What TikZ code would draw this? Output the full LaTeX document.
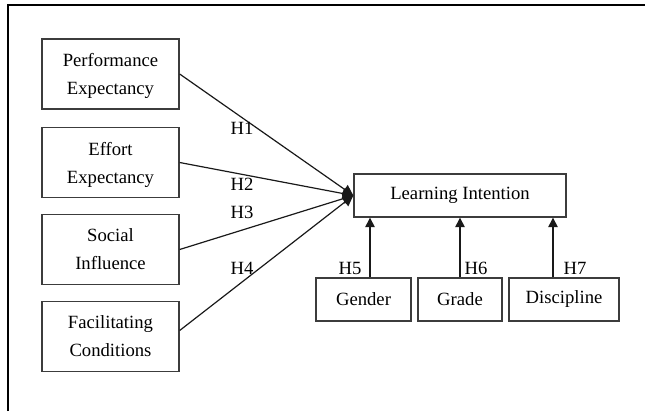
\documentclass[tikz,border=0pt]{standalone}
\usepackage{fontspec}
\setmainfont{Liberation Serif}
\usetikzlibrary{arrows.meta}
\tikzset{
  varbox/.style={draw={rgb,255:red,60;green,60;blue,60},line width=1pt,minimum width=137*0.75pt,minimum height=70*0.75pt,align=center,inner sep=0pt,text depth=0pt,font=\fontsize{14}{21}\selectfont},
  modbox/.style={draw={rgb,255:red,60;green,60;blue,60},line width=1pt,minimum height=43*0.75pt,inner sep=0pt,font=\fontsize{14}{21}\selectfont},
  hlabel/.style={inner sep=0.75pt,font=\fontsize{14}{16}\selectfont},
  path/.style={draw={rgb,255:red,25;green,25;blue,25},line width=0.9pt,-{Triangle[length=7pt,width=7pt]}},
  inpath/.style={path,-{Triangle[length=8pt,width=8pt]}}
}
\begin{document}
\begin{tikzpicture}[x=0.75pt,y=0.75pt,yscale=-1]
        \useasboundingbox (0,0) rectangle (645,411);
        %Frame
        \draw [line width=1.5pt] (7.5,411) -- (7.5,5) -- (645,5) ;
        %Shape: Rectangle [id:pe]
        \node [varbox] (pe) at (110.5,74) {Performance\\Expectancy};
        %Shape: Rectangle [id:ee]
        \node [varbox] (ee) at (110.5,162.5) {Effort\\Expectancy};
        %Shape: Rectangle [id:si]
        \node [varbox] (si) at (110.5,249.5) {Social\\Influence};
        %Shape: Rectangle [id:fc]
        \node [varbox] (fc) at (110.5,336.5) {Facilitating\\Conditions};
        %Shape: Rectangle [id:li]
        \node [modbox,minimum width=212*0.75pt] (li) at (460,195.5) {Learning Intention};
        %Shape: Rectangle [id:gender]
        \node [modbox,minimum width=95*0.75pt] (gender) at (363.5,299.5) {Gender};
        %Shape: Rectangle [id:grade]
        \node [modbox,minimum width=84*0.75pt] (grade) at (460,299.5) {Grade};
        %Shape: Rectangle [id:discipline]
        \node [modbox,minimum width=110*0.75pt] (discipline) at (564,299.5) {Discipline};

        %Straight Lines
        \draw [inpath] (pe.east) -- (li.west) ;
        \draw [inpath] (ee.east) -- (li.west) ;
        \draw [inpath] (si.east) -- (li.west) ;
        \draw [inpath] ([yshift=-6*0.75pt]fc.east) -- (li.west) ;
        %Straight Lines
        \draw [path] ([xshift=6.5*0.75pt]gender.north) -- ([xshift=6.5*0.75pt]gender.north |- li.south) ;
        \draw [path] (grade.north) -- (li.south) ;
        \draw [path] ([xshift=-11*0.75pt]discipline.north) -- ([xshift=-11*0.75pt]discipline.north |- li.south) ;

        % Text Node
        \node [hlabel] (h1) at (242,128) {H1};
        % Text Node
        \node [hlabel] (h2) at (242,184) {H2};
        % Text Node
        \node [hlabel] (h3) at (242,212) {H3};
        % Text Node
        \node [hlabel] (h4) at (242,268) {H4};
        % Text Node
        \node [hlabel] (h5) at (350,268) {H5};
        % Text Node
        \node [hlabel] (h6) at (476,268) {H6};
        % Text Node
        \node [hlabel] (h7) at (575,268) {H7};
\end{tikzpicture}
\end{document}
